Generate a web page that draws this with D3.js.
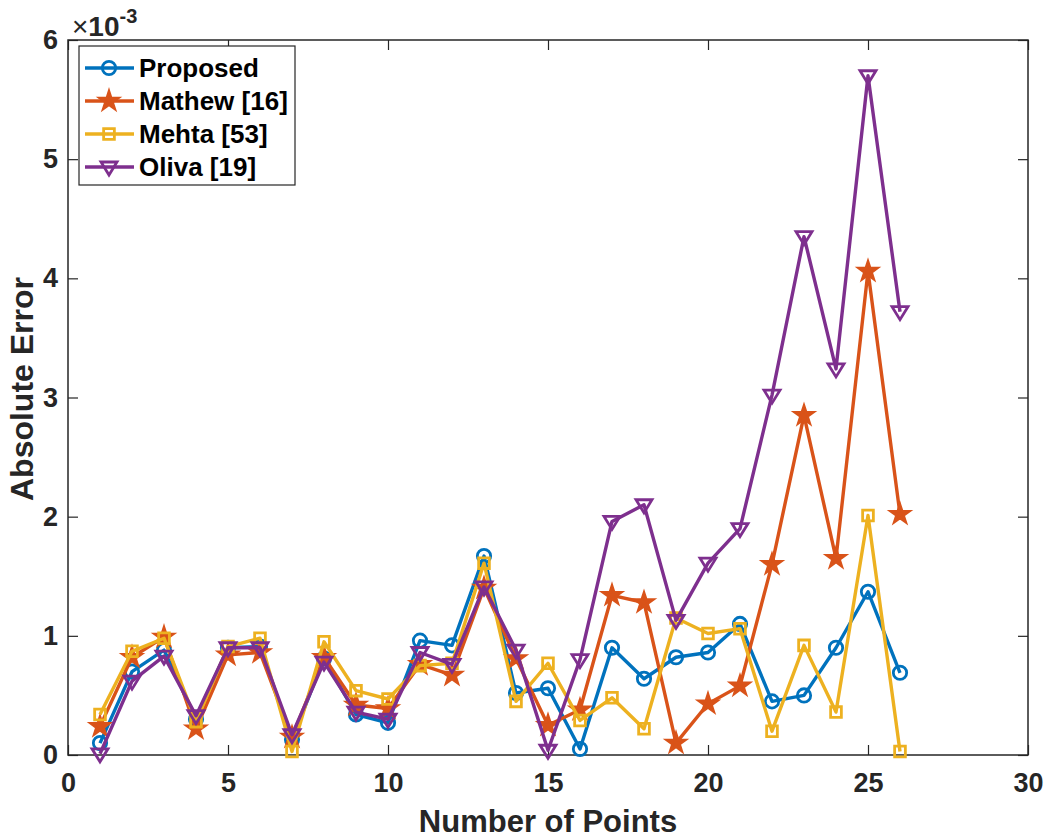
<!DOCTYPE html>
<html>
<head>
<meta charset="utf-8">
<script src="https://cdn.jsdelivr.net/npm/d3@7"></script>
<style>
  body { margin: 0; background: #fff; }
  svg text { font-family: "Liberation Sans", Arial, Helvetica, sans-serif; font-weight: bold; fill: #262626; }
</style>
</head>
<body>
<div id="chart"></div>
<script>
// x positions: number of points
const points = d3.range(1, 27);

// absolute error values (x 1e-3)
const proposed = [0.10, 0.70, 0.88, 0.30, 0.90, 0.91, 0.13, 0.81, 0.34, 0.27,
  0.96, 0.92, 1.67, 0.52, 0.56, 0.05, 0.90, 0.64, 0.82, 0.86,
  1.10, 0.45, 0.50, 0.90, 1.37, 0.69];
const mathew = [0.24, 0.82, 0.99, 0.22, 0.84, 0.86, 0.15, 0.82, 0.42, 0.39,
  0.76, 0.67, 1.40, 0.81, 0.25, 0.38, 1.34, 1.28, 0.10, 0.43,
  0.58, 1.60, 2.85, 1.65, 4.06, 2.02];
const mehta = [0.34, 0.87, 0.98, 0.28, 0.91, 0.98, 0.03, 0.95, 0.54, 0.47,
  0.75, 0.77, 1.61, 0.45, 0.77, 0.29, 0.48, 0.22, 1.15, 1.02,
  1.06, 0.20, 0.92, 0.36, 2.01, 0.03];
const oliva = [0.01, 0.62, 0.83, 0.33, 0.90, 0.90, 0.17, 0.78, 0.36, 0.30,
  0.86, 0.76, 1.41, 0.88, 0.04, 0.80, 1.96, 2.10, 1.13, 1.61,
  1.90, 3.02, 4.35, 3.24, 5.70, 3.72];

const seriesNames = ["Proposed", "Mathew [16]", "Mehta [53]", "Oliva [19]"];
const seriesValues = [proposed, mathew, mehta, oliva];
const colors = ["#0072BD", "#D95319", "#EDB120", "#7E2F8E"];
const markers = ["circle", "star", "square", "triangle"];

const xTicks = [0, 5, 10, 15, 20, 25, 30];
const yTicks = [0, 1, 2, 3, 4, 5, 6];

const config = {
  width: 1056,
  height: 839,
  margin: { top: 40, right: 28, bottom: 84, left: 68 },
};

const innerW = config.width - config.margin.left - config.margin.right;
const innerH = config.height - config.margin.top - config.margin.bottom;

const svg = d3.select("#chart").append("svg")
  .attr("width", config.width)
  .attr("height", config.height);

const chart = svg.append("g")
  .attr("transform", `translate(${config.margin.left},${config.margin.top})`);

const x = d3.scaleLinear().domain([0, 30]).range([0, innerW]);
const y = d3.scaleLinear().domain([0, 6]).range([innerH, 0]);

const axisColor = "#262626";

// axes with inward ticks (box style)
function styleAxis(g) {
  g.select(".domain").remove();
  g.selectAll(".tick line").attr("stroke", axisColor).attr("stroke-width", 1.2);
  g.selectAll(".tick text").style("font-size", "27px").attr("fill", axisColor);
}

chart.append("g")
  .attr("transform", `translate(0,${innerH})`)
  .call(d3.axisBottom(x).tickValues(xTicks).tickSize(-10).tickPadding(18).tickFormat(d3.format("d")))
  .call(styleAxis);

chart.append("g")
  .call(d3.axisLeft(y).tickValues(yTicks).tickSize(-10).tickPadding(10).tickFormat(d3.format("d")))
  .call(styleAxis);

chart.append("g")
  .call(d3.axisTop(x).tickValues(xTicks).tickSize(-10).tickFormat(""))
  .call(styleAxis);

chart.append("g")
  .attr("transform", `translate(${innerW},0)`)
  .call(d3.axisRight(y).tickValues(yTicks).tickSize(-10).tickFormat(""))
  .call(styleAxis);

chart.append("rect")
  .attr("width", innerW)
  .attr("height", innerH)
  .attr("fill", "none")
  .attr("stroke", axisColor)
  .attr("stroke-width", 1.5);

// exponent label
const expo = chart.append("text")
  .attr("x", 4)
  .attr("y", -4)
  .style("font-size", "28px");
expo.append("tspan").text("\u00d7").style("font-weight", "normal");
expo.append("tspan").text("10");
expo.append("tspan").text("-3").attr("dy", -13).style("font-size", "20px");

// axis labels
svg.append("text")
  .attr("x", config.margin.left + innerW / 2)
  .attr("y", 832)
  .attr("text-anchor", "middle")
  .style("font-size", "31px")
  .text("Number of Points");

svg.append("text")
  .attr("transform", "translate(33,389) rotate(-90)")
  .attr("text-anchor", "middle")
  .style("font-size", "32px")
  .text("Absolute Error");

// marker shapes
function markerPath(type) {
  if (type === "circle") return d3.symbol(d3.symbolCircle, 140)();
  if (type === "star") return d3.symbol(d3.symbolStar, 100)();
  if (type === "square") return d3.symbol(d3.symbolSquare, 115)();
  return "M-8,-5L8,-5L0,8Z";
}

const line = d3.line()
  .x((d, i) => x(points[i]))
  .y((d) => y(d));

seriesValues.forEach((vals, k) => {
  const g = chart.append("g").attr("class", "series");
  g.append("path")
    .datum(vals)
    .attr("d", line)
    .attr("fill", "none")
    .attr("stroke", colors[k])
    .attr("stroke-width", 3.4)
    .attr("stroke-linejoin", "round");

  g.selectAll("path.marker")
    .data(vals)
    .join("path")
    .attr("class", "marker")
    .attr("transform", (d, i) => `translate(${x(points[i])},${y(d)})`)
    .attr("d", markerPath(markers[k]))
    .attr("fill", markers[k] === "star" ? colors[k] : "none")
    .attr("stroke", colors[k])
    .attr("stroke-width", 2.8);
});

// legend
const legend = chart.append("g")
  .attr("class", "legend")
  .attr("transform", "translate(11,6)");

legend.append("rect")
  .attr("width", 216)
  .attr("height", 139)
  .attr("fill", "#fff")
  .attr("stroke", axisColor)
  .attr("stroke-width", 1.2);

seriesNames.forEach((name, k) => {
  const row = legend.append("g")
    .attr("transform", `translate(0,${22 + k * 33})`);
  row.append("line")
    .attr("x1", 6).attr("x2", 55)
    .attr("stroke", colors[k])
    .attr("stroke-width", 3.4);
  row.append("path")
    .attr("transform", "translate(30,0)")
    .attr("d", markerPath(markers[k]))
    .attr("fill", markers[k] === "star" ? colors[k] : "none")
    .attr("stroke", colors[k])
    .attr("stroke-width", 2.8);
  row.append("text")
    .attr("x", 60)
    .attr("y", 9)
    .style("font-size", "26px")
    .style("fill", "#000")
    .text(name);
});
</script>
</body>
</html>
